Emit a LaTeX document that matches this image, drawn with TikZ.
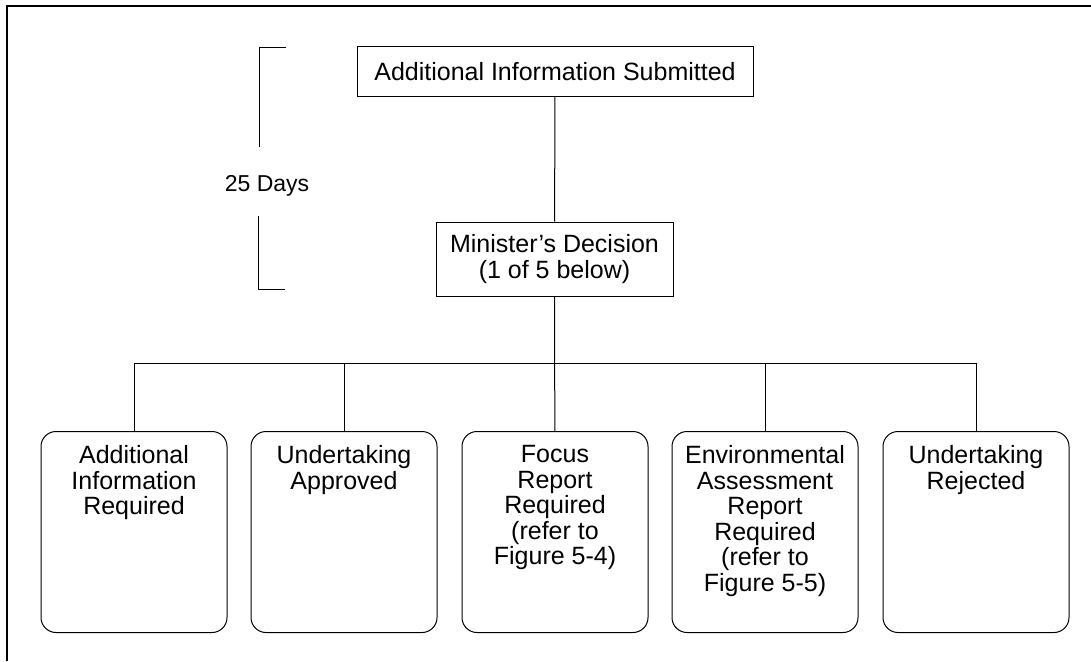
\documentclass[tikz,border=0pt]{standalone}
\usepackage{fontspec}
\setmainfont{Liberation Sans}
\usepackage{tikz}
\usetikzlibrary{calc,backgrounds}
\tikzstyle{flow}=[
  x=1pt,y=-1pt,font=\fontsize{25}{25.5}\selectfont,line width=1pt
]
\tikzstyle{decision}=[
  draw,rectangle,inner xsep=0pt,inner ysep=0pt,align=center
]
\tikzstyle{outcome}=[
  draw,rectangle,rounded corners=15pt,anchor=north,inner xsep=0pt,inner ysep=14pt
]
\tikzstyle{link}=[
  line width=1pt
]
\tikzstyle{frame}=[
  line width=2pt
]
\newcommand{\outtext}[1]{\parbox[t][173pt][t]{186pt}{\centering #1}}

\begin{document}
\begin{tikzpicture}[flow]
      \useasboundingbox (0,0) rectangle (1091,661);
      \draw [frame] (7,661) -- (7,6) -- (1091,6);
        \node (sub) at (555,71.5) [decision,minimum width=396pt,minimum height=49pt] {Additional Information Submitted};
        \node (dec) at (554.5,259) [decision,minimum width=237pt,minimum height=74pt] {Minister's Decision\\(1 of 5 below)};
        \coordinate (bus) at (555,363);
        \node (o1) at (134,431) [outcome] {\outtext{Additional\\Information\\Required}};
        \node (o2) at (344,431) [outcome] {\outtext{Undertaking\\Approved}};
        \node (o3) at (555,431) [outcome] {\outtext{Focus\\Report\\Required\\(refer to\\Figure 5-4)}};
        \node (o4) at (765,431) [outcome] {\outtext{Environmental\\Assessment\\Report\\Required\\(refer to\\Figure 5-5)}};
        \node (o5) at (976,431) [outcome] {\outtext{Undertaking\\Rejected}};
        % 25 day bracket
        \coordinate (bt1) at (286,48);
        \coordinate (bt2) at (259,147);
        \coordinate (bb1) at (258,216);
        \coordinate (bb2) at (285,289);
        \node (days) at (267,186) [font=\fontsize{23}{25}\selectfont] {25 Days};
        \draw [link] (bt1) -| (bt2);
        \draw [link] (bb1) |- (bb2);

        \begin{scope}[on background layer]
          \draw [link] (sub) -- (dec);
          \draw [link] (dec) -- (o3);
          \draw [link] (o1.north) |- (bus);
          \draw [link] (o2.north) |- (bus);
          \draw [link] (o4.north) |- (bus);
          \draw [link] (o5.north) |- (bus);
    \end{scope}
    \end{tikzpicture}
\end{document}
